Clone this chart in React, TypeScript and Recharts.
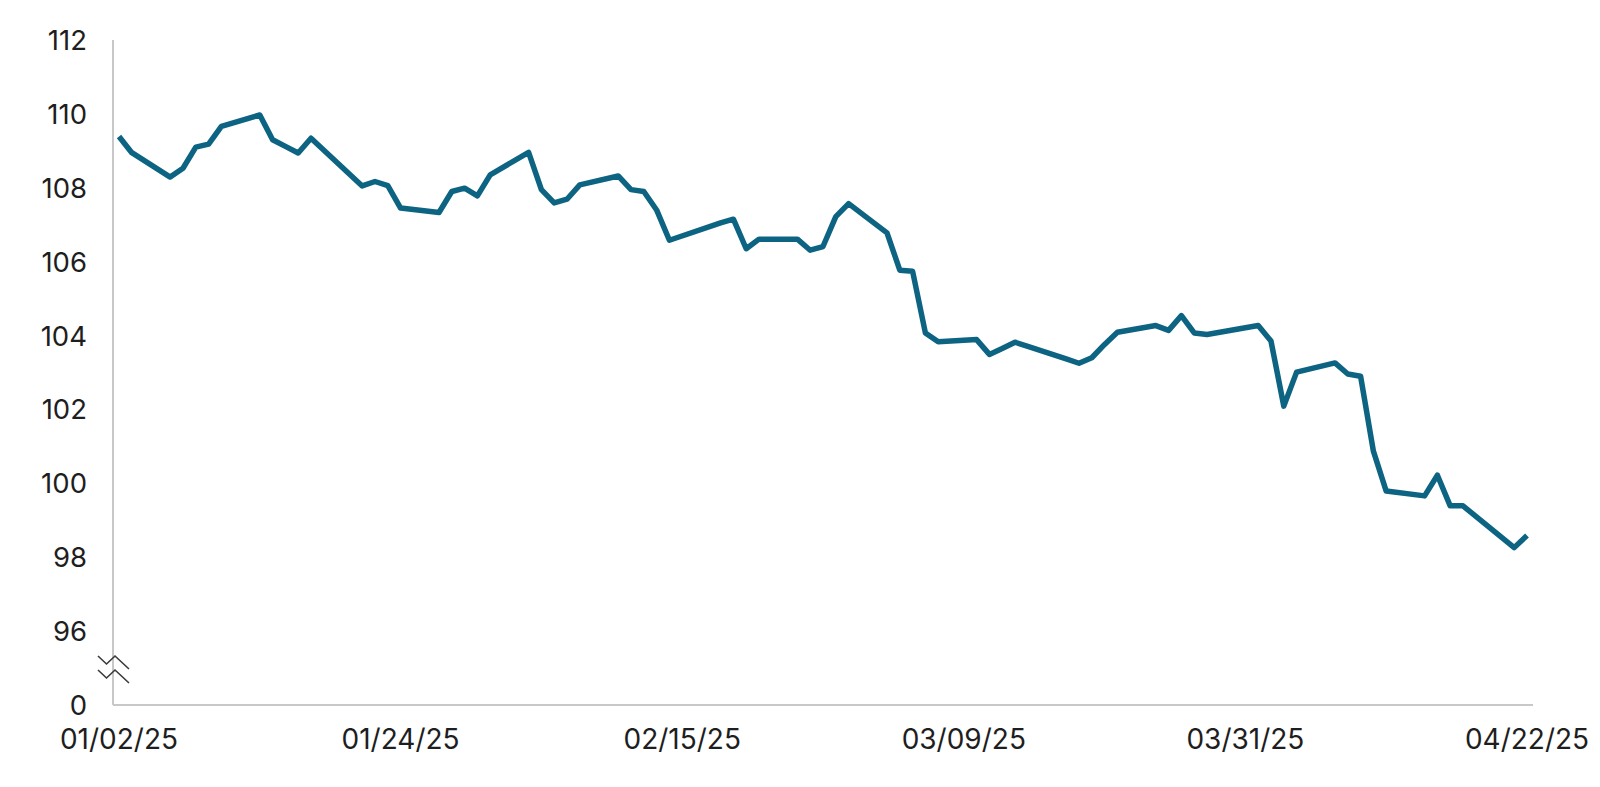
import { LineChart, Line, XAxis, YAxis } from 'recharts';

// trading days and index level
const dates = [
  '01/02/25', '01/03/25', '01/06/25', '01/07/25', '01/08/25', '01/09/25', '01/10/25',
  '01/13/25', '01/14/25', '01/15/25', '01/16/25', '01/17/25', '01/21/25', '01/22/25',
  '01/23/25', '01/24/25', '01/27/25', '01/28/25', '01/29/25', '01/30/25', '01/31/25',
  '02/03/25', '02/04/25', '02/05/25', '02/06/25', '02/07/25', '02/10/25', '02/11/25',
  '02/12/25', '02/13/25', '02/14/25', '02/18/25', '02/19/25', '02/20/25', '02/21/25',
  '02/24/25', '02/25/25', '02/26/25', '02/27/25', '02/28/25', '03/03/25', '03/04/25',
  '03/05/25', '03/06/25', '03/07/25', '03/10/25', '03/11/25', '03/12/25', '03/13/25',
  '03/14/25', '03/17/25', '03/18/25', '03/19/25', '03/20/25', '03/21/25', '03/24/25',
  '03/25/25', '03/26/25', '03/27/25', '03/28/25', '03/31/25', '04/01/25', '04/02/25',
  '04/03/25', '04/04/25', '04/07/25', '04/08/25', '04/09/25', '04/10/25', '04/11/25',
  '04/14/25', '04/15/25', '04/16/25', '04/17/25', '04/21/25', '04/22/25',
];

const values = [
  109.39, 108.95, 108.29, 108.53, 109.1, 109.18, 109.66,
  109.97, 109.3, 109.12, 108.94, 109.34, 108.05, 108.17,
  108.06, 107.45, 107.33, 107.9, 107.99, 107.78, 108.35,
  108.96, 107.95, 107.59, 107.69, 108.08, 108.32, 107.95,
  107.9, 107.4, 106.58, 107.05, 107.15, 106.35, 106.61,
  106.61, 106.31, 106.41, 107.22, 107.57, 106.78, 105.77,
  105.74, 104.07, 103.83, 103.89, 103.49, 103.65, 103.82,
  103.71, 103.37, 103.25, 103.4, 103.76, 104.09, 104.27,
  104.14, 104.54, 104.07, 104.03, 104.21, 104.27, 103.85,
  102.09, 103.01, 103.26, 102.96, 102.9, 100.87, 99.79,
  99.66, 100.22, 99.39, 99.39, 98.26, 98.59,
];

const xTickLabels = ['01/02/25', '01/24/25', '02/15/25', '03/09/25', '03/31/25', '04/22/25'];
const yTicks = [94, 96, 98, 100, 102, 104, 106, 108, 110, 112];
// axis is broken below 96: the lowest tick stands for 0
const yBreakValue = 94;
const yBreakLabel = '0';

const FONT = 'Inter, "Noto Sans", sans-serif';
const LINE_COLOR = '#0d6482';
const AXIS_COLOR = '#c8c8c8';
const Y_TICK_MARGIN = 26;

const toTime = (s: string) => {
  const [m, d, y] = s.split('/').map(Number);
  return Date.UTC(2000 + y, m - 1, d);
};
const DAY = 86400000;
const start = toTime(dates[0]);
const toDay = (s: string) => Math.round((toTime(s) - start) / DAY);

const data = dates.map((d, i) => ({ day: toDay(d), value: values[i] }));
const xTicks = xTickLabels.map(toDay);

const YTick = (props: any) => {
  const { x, y, payload } = props;
  const isBreak = payload.value === yBreakValue;
  const ax = x + Y_TICK_MARGIN;
  const zig = (oy: number) =>
    `M${ax - 15},${y + oy - 13} L${ax - 6.5},${y + oy - 5} L${ax + 2},${y + oy - 13} L${ax + 16},${y + oy}`;
  return (
    <g>
      <text
        x={x}
        y={y}
        textAnchor="end"
        dominantBaseline="central"
        fontFamily={FONT}
        fontSize={27.5}
        fill="#1e1e1e"
      >
        {isBreak ? yBreakLabel : payload.value}
      </text>
      {isBreak && (
        <g fill="none" stroke="#3a3a3a" strokeWidth={1.6}>
          <path d={zig(-36)} />
          <path d={zig(-22)} />
        </g>
      )}
    </g>
  );
};

export default function App() {
  return (
    <div style={{ position: 'absolute', left: 0, top: 0, width: 1600, height: 787, background: '#fff' }}>
      <LineChart width={1600} height={787} data={data} margin={{ top: 40, right: 67, bottom: 0, left: 0 }}>
        <XAxis
          dataKey="day"
          type="number"
          domain={[0, xTicks[xTicks.length - 1]]}
          ticks={xTicks}
          tickFormatter={(v) => xTickLabels[xTicks.indexOf(v)] ?? ''}
          padding={{ left: 6, right: 6 }}
          height={82}
          tickLine={false}
          tickSize={0}
          tickMargin={24}
          axisLine={{ stroke: AXIS_COLOR, strokeWidth: 2 }}
          tick={{ fontSize: 28, fill: '#1e1e1e', fontFamily: FONT }}
          interval={0}
        />
        <YAxis
          type="number"
          domain={[yTicks[0], yTicks[yTicks.length - 1]]}
          ticks={yTicks}
          width={113}
          tickLine={false}
          tickSize={0}
          tickMargin={Y_TICK_MARGIN}
          axisLine={{ stroke: AXIS_COLOR, strokeWidth: 2 }}
          tick={<YTick />}
          interval={0}
        />
        <Line
          type="linear"
          dataKey="value"
          stroke={LINE_COLOR}
          strokeWidth={5.5}
          strokeLinejoin="round"
          dot={false}
          isAnimationActive={false}
        />
      </LineChart>
    </div>
  );
}
